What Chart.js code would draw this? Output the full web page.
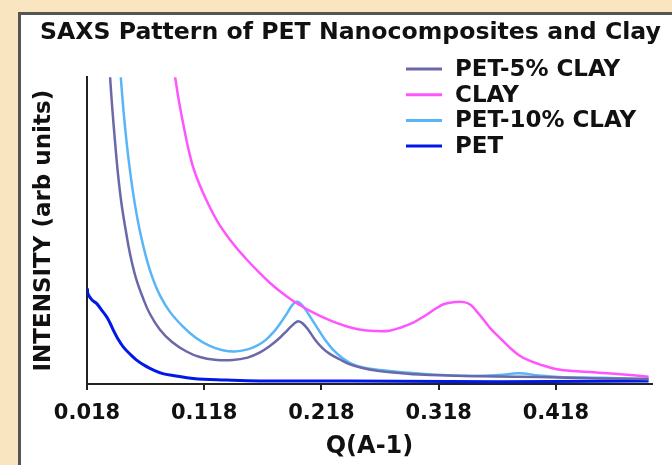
<!DOCTYPE html>
<html>
<head>
<meta charset="utf-8">
<script src="https://cdn.jsdelivr.net/npm/chart.js@4/dist/chart.umd.min.js"></script>
<style>
  html, body { margin: 0; padding: 0; background: #f9e6c1; }
  #wrap { width: 672px; height: 465px; }
</style>
</head>
<body>
<div id="wrap"><canvas id="chart-saxs"></canvas></div>
<script>
// series names, in legend order
const series_names = ["PET-5% CLAY", "CLAY", "PET-10% CLAY", "PET"];

// Q values (A-1) and intensity (arb units, 0..100 = axis height)
const q_pet5 = [0.0350, 0.0376, 0.0397, 0.0418, 0.0444, 0.0475, 0.0512, 0.0546, 0.0597, 0.0659, 0.0716, 0.0801, 0.0903, 0.1029, 0.1142, 0.1269, 0.1423, 0.1550, 0.1652, 0.1737, 0.1823, 0.1891, 0.1942, 0.1984, 0.2027, 0.2069, 0.2129, 0.2189, 0.2248, 0.2333, 0.2418, 0.2529, 0.2674, 0.2844, 0.3014, 0.3440, 0.3865, 0.4206, 0.4546, 0.4971];
const i_pet5 = [118.6, 100.7, 89.3, 79.5, 68.6, 58.6, 49.8, 42.6, 34.6, 27.9, 22.9, 17.8, 13.8, 10.6, 8.8, 7.9, 7.8, 8.6, 10.2, 12.3, 15.0, 17.6, 19.5, 20.5, 19.5, 17.6, 14.3, 11.7, 9.9, 8.1, 6.5, 5.2, 4.2, 3.6, 3.1, 2.6, 2.4, 2.1, 1.8, 1.6];

const q_clay = [0.0903, 0.0929, 0.0963, 0.1000, 0.1040, 0.1085, 0.1142, 0.1227, 0.1312, 0.1423, 0.1533, 0.1652, 0.1737, 0.1823, 0.1908, 0.1993, 0.2103, 0.2248, 0.2384, 0.2503, 0.2631, 0.2759, 0.2869, 0.2971, 0.3057, 0.3156, 0.3227, 0.3312, 0.3397, 0.3457, 0.3508, 0.3567, 0.3627, 0.3695, 0.3780, 0.3865, 0.3950, 0.4035, 0.4177, 0.4333, 0.4546, 0.4759, 0.4971];
const i_clay = [106.2, 100.7, 92.5, 85.0, 77.5, 70.7, 64.8, 57.7, 51.8, 45.9, 41.0, 36.2, 33.1, 30.3, 27.9, 25.8, 23.4, 20.8, 18.9, 17.8, 17.3, 17.4, 18.6, 20.2, 22.1, 24.6, 26.1, 26.7, 26.7, 25.7, 23.5, 20.8, 17.9, 15.3, 12.1, 9.4, 7.7, 6.5, 4.9, 4.2, 3.7, 3.1, 2.4];

const q_pet10 = [0.0435, 0.0467, 0.0491, 0.0518, 0.0550, 0.0589, 0.0631, 0.0688, 0.0742, 0.0801, 0.0886, 0.0997, 0.1108, 0.1227, 0.1329, 0.1440, 0.1550, 0.1635, 0.1703, 0.1771, 0.1831, 0.1882, 0.1925, 0.1959, 0.1993, 0.2035, 0.2086, 0.2146, 0.2206, 0.2274, 0.2359, 0.2444, 0.2554, 0.2674, 0.3014, 0.3440, 0.3695, 0.3865, 0.4035, 0.4206, 0.4571, 0.4971];
const i_pet10 = [118.6, 100.7, 89.3, 78.8, 68.6, 58.5, 49.9, 40.8, 34.3, 29.0, 23.6, 18.8, 15.1, 12.4, 11.1, 10.6, 11.3, 12.6, 14.3, 16.9, 19.9, 22.8, 25.4, 26.7, 26.5, 24.8, 21.8, 18.2, 14.7, 11.4, 8.5, 6.5, 5.2, 4.6, 3.4, 2.6, 2.9, 3.5, 2.8, 2.3, 2.0, 1.6];

const q_pet = [0.0183, 0.0189, 0.0223, 0.0263, 0.0299, 0.0348, 0.0376, 0.0404, 0.0444, 0.0489, 0.0546, 0.0603, 0.0674, 0.0744, 0.0827, 0.0914, 0.1085, 0.1369, 0.1652, 0.2418, 0.3269, 0.4120, 0.4971];
const i_pet = [31.2, 29.3, 27.4, 26.2, 24.4, 21.9, 19.9, 17.6, 14.7, 12.1, 9.8, 7.8, 6.0, 4.6, 3.4, 2.8, 1.8, 1.3, 1.0, 1.0, 0.8, 0.8, 1.0];

// x tick labels
const q_ticks = [0.018, 0.118, 0.218, 0.318, 0.418];

const colors = ["#6a68a8", "#ff55ff", "#58b6f8", "#0018e8"];

function to_points(xs, ys) {
    let pts = [];
    for (let i = 0; i < xs.length; i++) {
        pts.push({x: xs[i], y: ys[i]});
    }
    return pts;
}

function make_dataset(idx, xs, ys, width) {
    return {
        label: series_names[idx],
        data: to_points(xs, ys),
        borderColor: colors[idx],
        backgroundColor: colors[idx],
        borderWidth: width,
        pointRadius: 0,
        tension: 0.4,
        clip: 0,
    };
}

// beige page, white framed panel
const panel_plugin = {
    id: 'panel',
    beforeDraw(chart) {
        const c = chart.ctx;
        c.save();
        c.fillStyle = '#f9e6c1';
        c.fillRect(0, 0, chart.width, chart.height);
        c.fillStyle = '#ffffff';
        c.fillRect(19, 13, chart.width, chart.height);
        c.strokeStyle = '#555555';
        c.lineWidth = 3;
        c.strokeRect(19.5, 13.5, chart.width + 20, chart.height + 20);
        c.restore();
    }
};

// legend drawn inside the plot, top right
const legend_plugin = {
    id: 'insideLegend',
    afterDraw(chart) {
        const c = chart.ctx;
        c.save();
        c.font = 'bold 23px "DejaVu Sans"';
        c.textBaseline = 'middle';
        c.textAlign = 'left';
        chart.data.datasets.forEach((ds, i) => {
            const y = 69 + i * 25.7;
            c.strokeStyle = ds.borderColor;
            c.lineWidth = 3;
            c.beginPath();
            c.moveTo(406, y);
            c.lineTo(442, y);
            c.stroke();
            c.fillStyle = '#111111';
            c.fillText(ds.label, 455, y + 1);
        });
        c.restore();
    }
};

const ctx_saxs = document.getElementById('chart-saxs');

const chart_saxs = new Chart(ctx_saxs, {
    type: 'line',
    data: {
        datasets: [
            make_dataset(0, q_pet5, i_pet5, 2.5),
            make_dataset(1, q_clay, i_clay, 2.5),
            make_dataset(2, q_pet10, i_pet10, 2.5),
            make_dataset(3, q_pet, i_pet, 3),
        ]
    },
    options: {
        responsive: true,
        maintainAspectRatio: false,
        animation: false,
        layout: { padding: { left: 29, right: 0, top: 0, bottom: 0 } },
        plugins: {
            legend: { display: false },
            tooltip: { enabled: false },
            title: {
                display: true,
                text: 'SAXS Pattern of PET Nanocomposites and Clay',
                color: '#111111',
                font: { family: 'DejaVu Sans', size: 23.6, weight: 'bold' },
                padding: { top: 19, bottom: 30 },
            },
        },
        scales: {
            x: {
                type: 'linear',
                min: 0.018,
                max: 0.5,
                afterBuildTicks(scale) {
                    scale.ticks = q_ticks.map(v => ({value: v}));
                },
                afterFit(scale) { scale.height = 81; },
                ticks: {
                    color: '#111111',
                    font: { family: 'DejaVu Sans', size: 21, weight: 'bold' },
                    padding: 11,
                    maxRotation: 0,
                    autoSkip: false,
                    callback: (v) => Number(v).toFixed(3),
                },
                grid: {
                    drawOnChartArea: false,
                    drawTicks: true,
                    tickLength: 6,
                    color: '#222222',
                    lineWidth: 2,
                },
                border: { display: true, color: '#222222', width: 2 },
                title: {
                    display: true,
                    text: 'Q(A-1)',
                    color: '#111111',
                    font: { family: 'DejaVu Sans', size: 24, weight: 'bold' },
                    padding: { top: 0, bottom: 4 },
                },
            },
            y: {
                type: 'linear',
                min: 0,
                max: 100,
                afterFit(scale) { scale.width = 58; },
                ticks: { display: false },
                grid: { display: false },
                border: { display: true, color: '#222222', width: 2 },
                title: {
                    display: true,
                    text: 'INTENSITY (arb units)',
                    color: '#111111',
                    font: { family: 'DejaVu Sans', size: 23, weight: 'bold' },
                    padding: { top: 1, bottom: 0 },
                },
            },
            // empty right-hand margin so the x axis stops where it does in the picture
            yRight: {
                type: 'linear',
                position: 'right',
                min: 0,
                max: 100,
                afterFit(scale) { scale.width = 20; },
                ticks: { display: false },
                grid: { display: false },
                border: { display: false },
            },
        },
    },
    plugins: [panel_plugin, legend_plugin],
});
</script>
</body>
</html>
